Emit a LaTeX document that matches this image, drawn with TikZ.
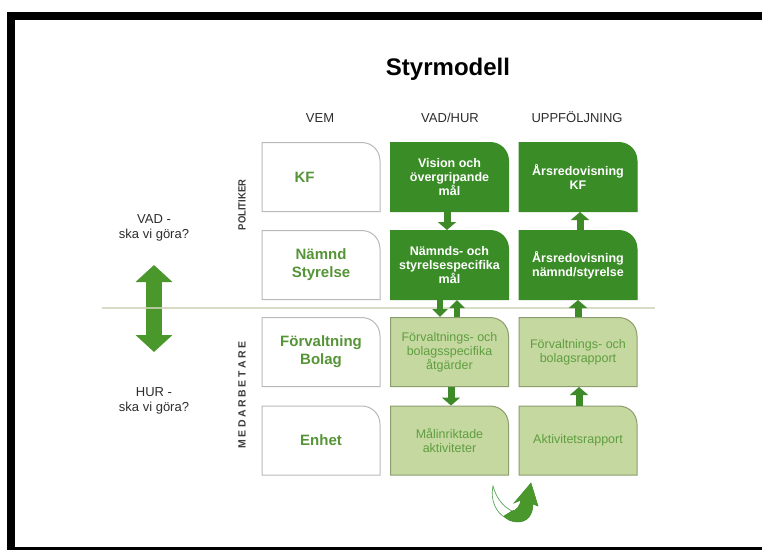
\documentclass[tikz,border=0pt]{standalone}
\usepackage{fontspec}
\setmainfont{Liberation Sans}
\usetikzlibrary{arrows.meta}
\definecolor{dkgreen}{RGB}{58,140,38}
\definecolor{arrgreen}{RGB}{62,138,40}
\definecolor{bigarr}{RGB}{74,152,44}
\definecolor{txtgreen}{RGB}{86,148,56}
\definecolor{ltfill}{RGB}{196,216,160}
\definecolor{ltedge}{RGB}{140,158,110}
\definecolor{ltxt}{RGB}{96,158,64}
\definecolor{wedge}{RGB}{185,185,185}
\definecolor{sepline}{RGB}{205,212,185}
\definecolor{lbl}{RGB}{45,45,45}
\definecolor{vlbl}{RGB}{60,60,60}
\tikzset{
  cellshape/.style 2 args={path picture={
    \path[fill=#1,draw=#2,line width=1pt]
      ([xshift=0.5pt,yshift=0.5pt]path picture bounding box.south west)
      -- ([xshift=0.5pt,yshift=-0.5pt]path picture bounding box.north west)
      -- ([xshift=-19pt,yshift=-0.5pt]path picture bounding box.north east)
      .. controls ([xshift=-8.5pt,yshift=-0.5pt]path picture bounding box.north east)
      and ([xshift=-0.5pt,yshift=-8.5pt]path picture bounding box.north east)
      .. ([xshift=-0.5pt,yshift=-19pt]path picture bounding box.north east)
      -- ([xshift=-0.5pt,yshift=0.5pt]path picture bounding box.south east) -- cycle;}},
  cell/.style={minimum width=119pt, minimum height=70pt, inner sep=2pt, outer sep=0pt, align=center},
  whitecell/.style={cell, cellshape={white}{wedge}, text=txtgreen, font=\fontsize{15}{18}\selectfont\bfseries},
  darkcell/.style={cell, cellshape={dkgreen}{dkgreen}, text=white, font=\fontsize{12.5}{14}\selectfont\bfseries},
  lightcell/.style={cell, cellshape={ltfill}{ltedge}, text=ltxt, font=\fontsize{12.5}{14}\selectfont},
  blockarrow/.style={arrgreen, line width=7pt, -{Triangle[length=8pt,width=18pt]}},
  smallblock/.style={arrgreen, line width=6pt, -{Triangle[length=8pt,width=15pt]}},
  header/.style={font=\fontsize{13}{15}\selectfont, text=lbl, anchor=base, inner sep=0pt},
  sidelbl/.style={font=\fontsize{13}{15}\selectfont, text=lbl, align=center, inner sep=0pt},
  vertlbl/.style={font=\fontsize{10.5}{13}\selectfont\bfseries, text=vlbl, rotate=90, inner sep=0pt}
}
\begin{document}
\begin{tikzpicture}[x=1pt,y=-1pt]
\useasboundingbox (0,0) rectangle (762,550);
\fill[white] (0,0) rectangle (762,550);
\fill[black] (7,12) rectangle (762,550);
\fill[white] (15,20) rectangle (762,547);

% title and headers
\node[font=\fontsize{24}{28}\selectfont\bfseries, anchor=base, inner sep=0pt] (title) at (448,75) {Styrmodell};
\node[header] (hvem) at (320,122) {VEM};
\node[header] (hvad) at (450,122) {VAD/HUR};
\node[header] (hupp) at (577,122) {UPPFÖLJNING};

% big double arrow and separator
\coordinate (bigtop) at (154,265);
\coordinate (bigbot) at (154,352);
\draw[bigarr, line width=16pt, {Triangle[length=17pt,width=36pt]}-{Triangle[length=17pt,width=36pt]}] (bigtop) -- (bigbot);
\coordinate (sepL) at (102,308);
\coordinate (sepR) at (655,308);
\draw[sepline, line width=1.3pt, opacity=0.8] (sepL) -- (sepR);

\node[sidelbl] (vad) at (154,228) {VAD -\\ska vi göra?};
\node[sidelbl] (hur) at (154,401) {HUR -\\ska vi göra?};

\node[vertlbl] (pol) at (242,205) {\scalebox{0.9}[1]{POLITIKER}};
\node[vertlbl] (med) at (242,395) {M\kern2.6pt E\kern2.6pt D\kern2.6pt A\kern2.6pt R\kern2.6pt B\kern2.6pt E\kern2.6pt T\kern2.6pt A\kern2.6pt R\kern2.6pt E};

% column 1
\node[whitecell] (kf) at (321,177) {KF\hspace*{33pt}};
\node[whitecell] (nsty) at (321,265) {Nämnd\\Styrelse};
\node[whitecell] (forv) at (321,352) {Förvaltning\\Bolag};
\node[whitecell] (enh) at (321,440.5) {Enhet};

% column 2
\node[darkcell] (vis) at (449.5,177) {Vision och\\övergripande\\mål};
\node[darkcell] (nmal) at (449.5,265) {Nämnds- och\\styrelsespecifika\\mål};
\node[lightcell] (fmal) at (449.5,352) {Förvaltnings- och\\bolagsspecifika\\åtgärder};
\node[lightcell] (mal) at (449.5,440.5) {Målinriktade\\aktiviteter};

% column 3
\node[darkcell] (akf) at (578,177) {Årsredovisning\\KF};
\node[darkcell] (ans) at (578,265) {Årsredovisning\\nämnd/styrelse};
\node[lightcell] (frap) at (578,352) {Förvaltnings- och\\bolagsrapport};
\node[lightcell] (arap) at (578,440.5) {Aktivitetsrapport};

% connectors
\draw[blockarrow] ([xshift=-2.5pt]vis.south) -- ([xshift=-2.5pt]nmal.north);
\draw[smallblock] ([xshift=-9.5pt]nmal.south) -- ([xshift=-9.5pt]fmal.north);
\draw[smallblock] ([xshift=7.5pt]fmal.north) -- ([xshift=7.5pt]nmal.south);
\draw[blockarrow] ([xshift=1.5pt]fmal.south) -- ([xshift=1.5pt]mal.north);
\draw[blockarrow] ([xshift=2pt]ans.north) -- ([xshift=2pt]akf.south);
\draw[blockarrow] (frap.north) -- (ans.south);
\draw[blockarrow] ([xshift=1pt]arap.north) -- ([xshift=1pt]frap.south);

% curved arrow below
\fill[white, draw=gray!70!green, line width=0.7pt]
  (493,486) .. controls (490,500) and (496,513) .. (506,518)
  -- (512,511) .. controls (502,506) and (496,497) .. (493,486) -- cycle;
\fill[bigarr, draw=arrgreen, line width=0.5pt]
  (531,483) -- (538,506) -- (533,504)
  .. controls (533,515) and (527,522) .. (518,522)
  .. controls (512,522) and (507,520) .. (504,516)
  -- (512,511) .. controls (516,511) and (520,506) .. (521,500)
  -- (514,503) -- cycle;
\end{tikzpicture}
\end{document}
